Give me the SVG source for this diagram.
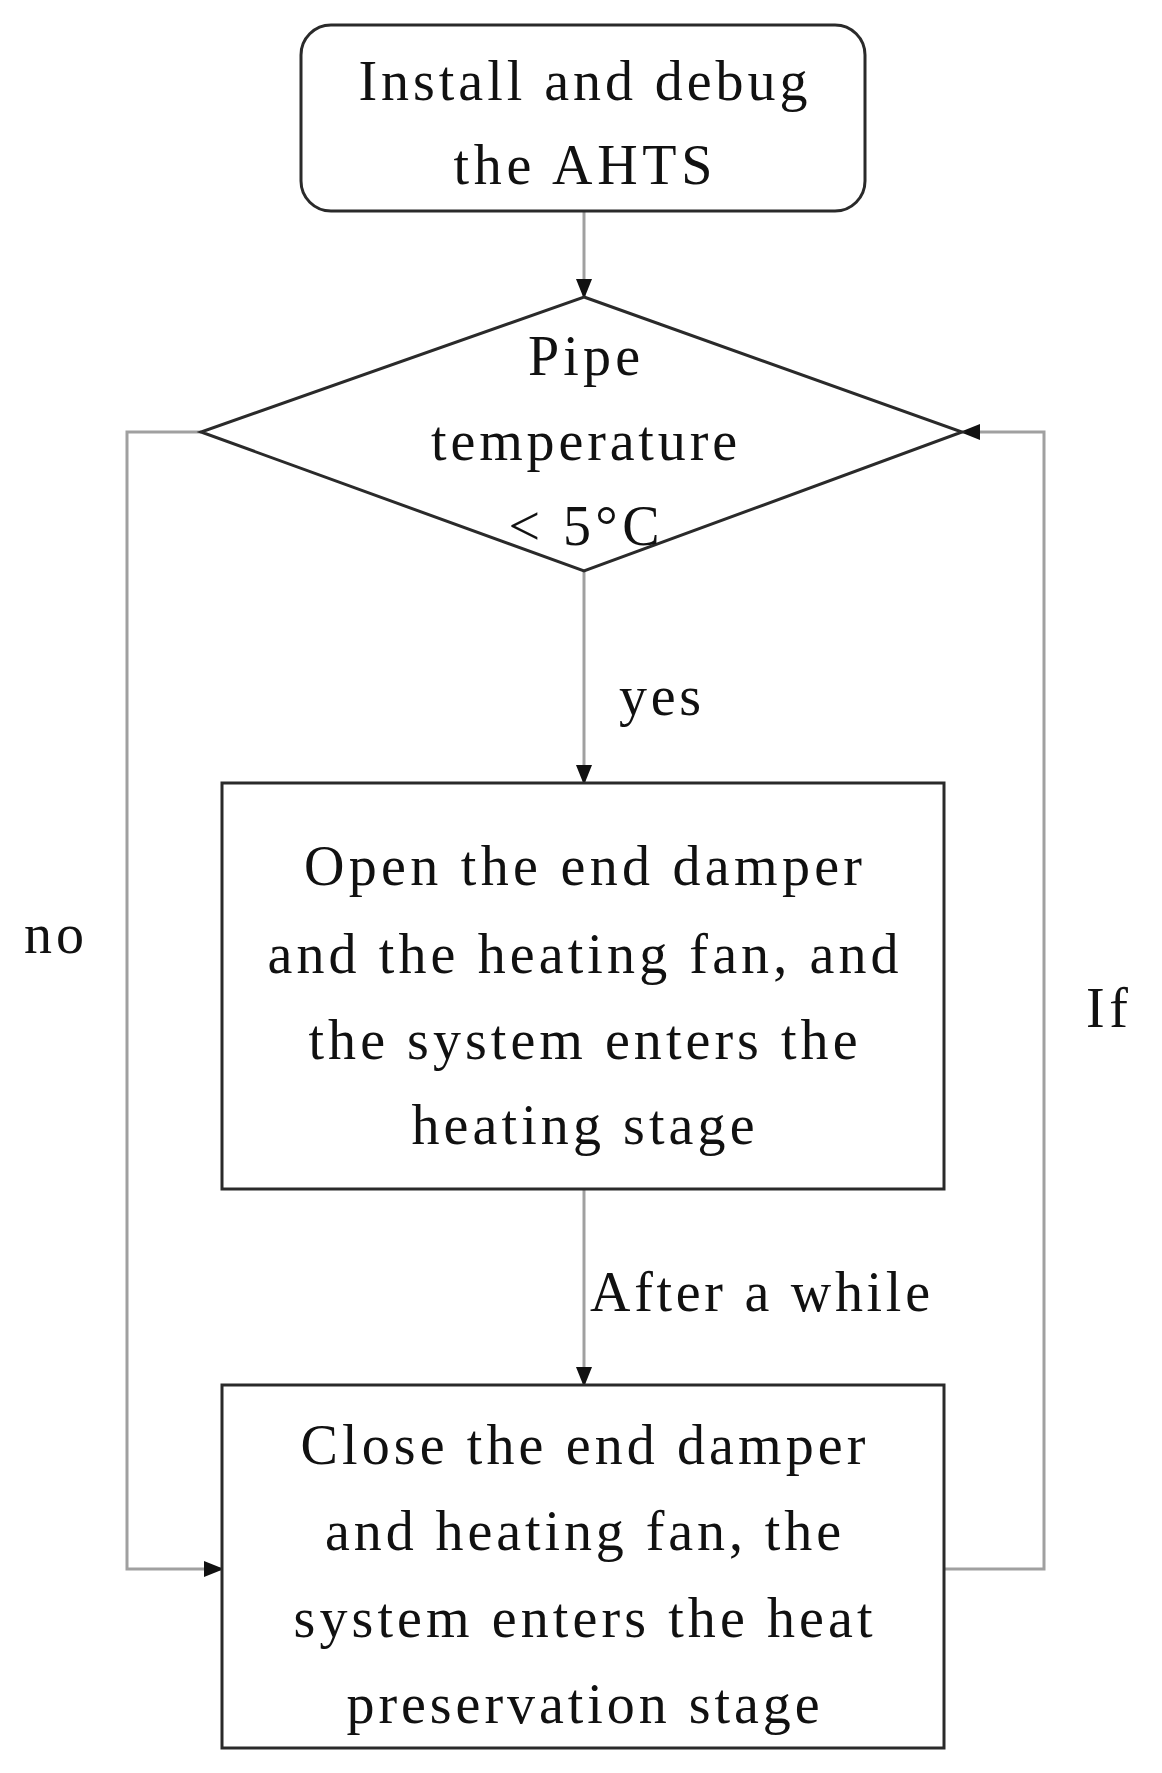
<svg xmlns="http://www.w3.org/2000/svg" width="1162" height="1773" viewBox="0 0 1162 1773">
<style>
.n{fill:#fff;stroke:#2a2a2a;stroke-width:3}
.c{fill:none;stroke:#a0a0a0;stroke-width:3}
text{font-family:"Liberation Serif","Times New Roman",serif;font-size:56px;fill:#111;text-anchor:middle}
</style>
<defs><marker id="a" markerWidth="10" markerHeight="10" refX="9" refY="5" orient="auto" markerUnits="userSpaceOnUse" viewBox="0 0 10 10"><path d="M0,0L10,5L0,10z" fill="#111"/></marker>
<marker id="b" markerWidth="20" markerHeight="20" refX="18" refY="10" orient="auto" markerUnits="userSpaceOnUse" viewBox="0 0 20 20"><path d="M0,2L20,10L0,18z" fill="#111"/></marker></defs>
<rect width="1162" height="1773" fill="#fff"/>
<g id="connectors">
<line class="c" x1="584" y1="211" x2="584" y2="297" marker-end="url(#b)"/>
<line class="c" x1="584" y1="571" x2="584" y2="783" marker-end="url(#b)"/>
<line class="c" x1="584" y1="1189" x2="584" y2="1385" marker-end="url(#b)"/>
<polyline class="c" points="201,432 127,432 127,1569 222,1569" marker-end="url(#b)"/>
<polyline class="c" points="944,1569 1044,1569 1044,432 962,432" marker-end="url(#b)"/>
<text x="660" y="715" textLength="82">yes</text>
<text x="54" y="953" textLength="60">no</text>
<text x="1107" y="1027" textLength="42">If</text>
<text x="760" y="1311" textLength="340">After a while</text>
</g>
<g id="start">
<rect class="n" x="301" y="25" width="564" height="186" rx="30"/>
<text x="583" y="100" textLength="449">Install and debug</text>
<text x="583" y="184" textLength="259">the AHTS</text>
</g>
<g id="decision">
<polygon class="n" points="584,297 962,432 584,571 201,432"/>
<text x="584" y="375" textLength="112">Pipe</text>
<text x="584" y="460" textLength="306">temperature</text>
<text x="584" y="545" textLength="151">&lt; 5°C</text>
</g>
<g id="heating">
<rect class="n" x="222" y="783" width="722" height="406"/>
<text x="583" y="885" textLength="558">Open the end damper</text>
<text x="583" y="973" textLength="631">and the heating fan, and</text>
<text x="583" y="1059" textLength="549">the system enters the</text>
<text x="583" y="1144" textLength="343">heating stage</text>
</g>
<g id="preservation">
<rect class="n" x="222" y="1385" width="722" height="363"/>
<text x="583" y="1464" textLength="565">Close the end damper</text>
<text x="583" y="1550" textLength="516">and heating fan, the</text>
<text x="583" y="1637" textLength="579">system enters the heat</text>
<text x="583" y="1723" textLength="473">preservation stage</text>
</g>
</svg>
